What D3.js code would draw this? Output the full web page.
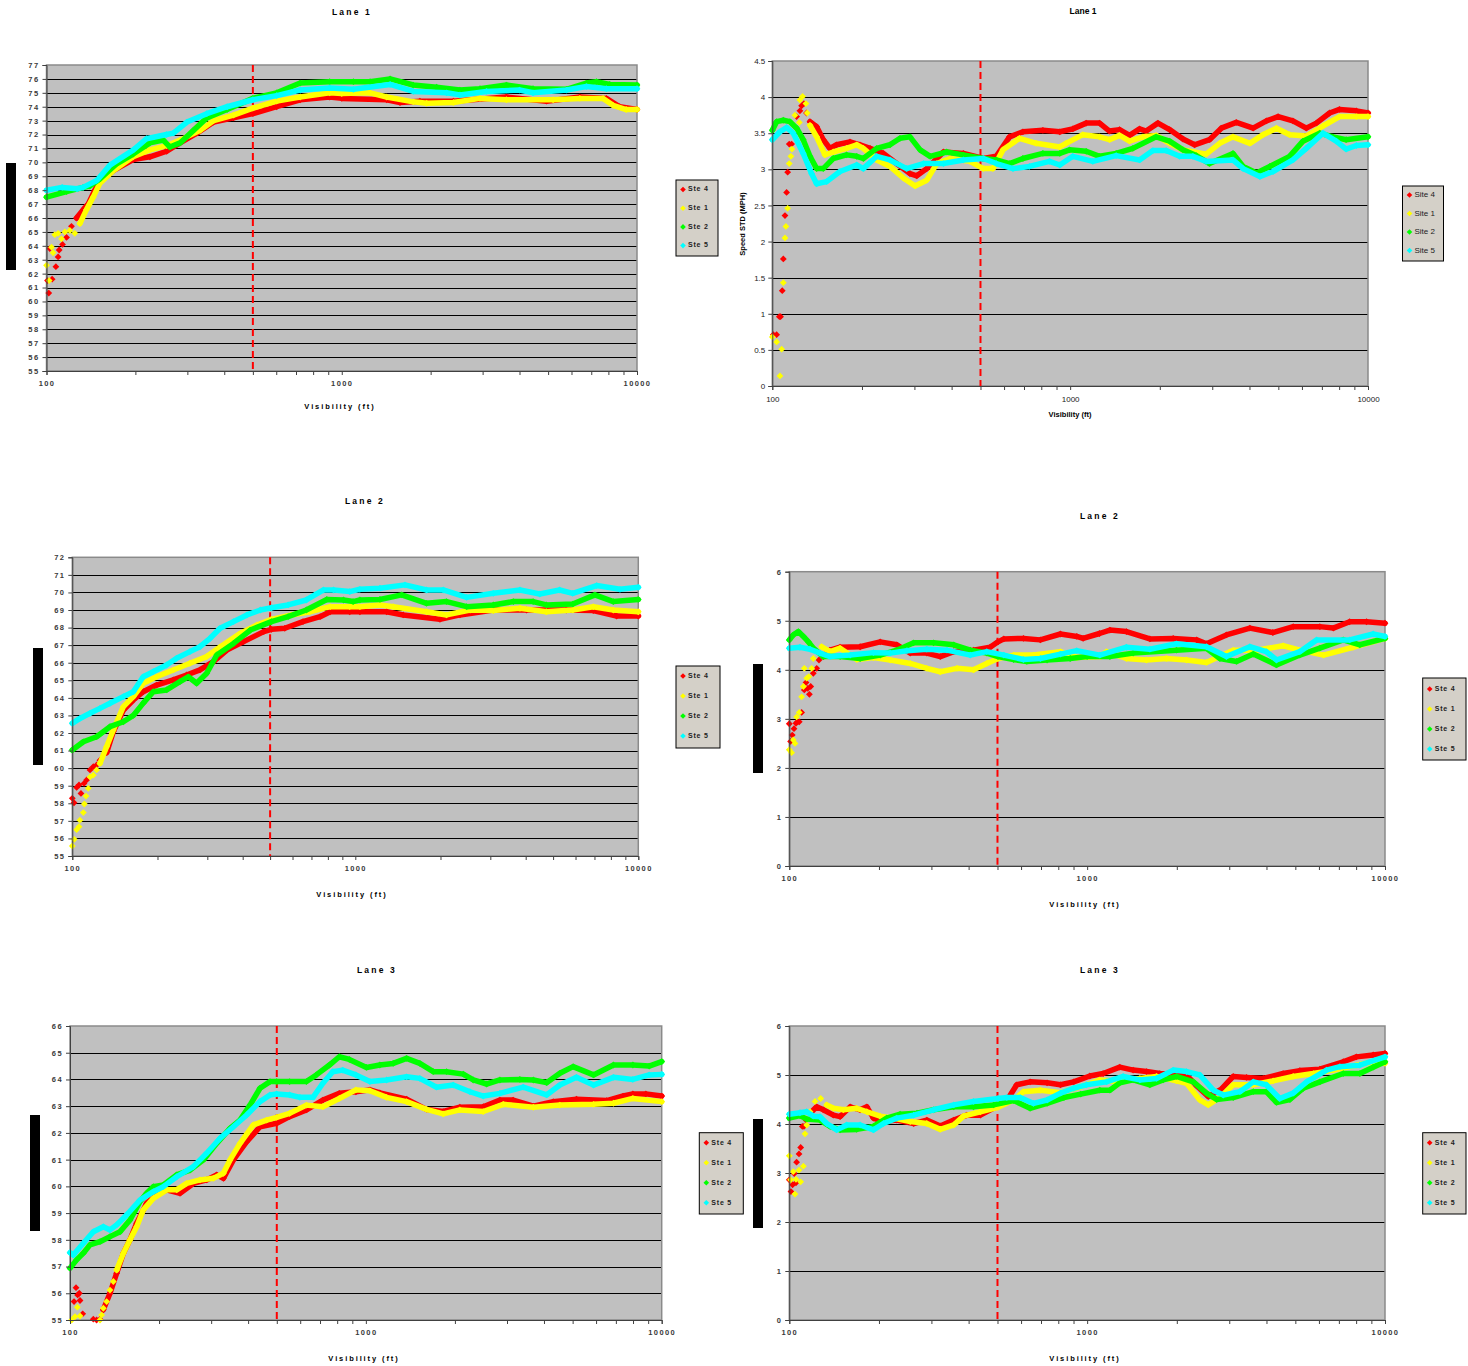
<!DOCTYPE html>
<html>
<head>
<meta charset="utf-8">
<script src="https://cdn.jsdelivr.net/npm/d3@7"></script>
<style>
  body { margin: 0; background: #fff; }
  svg { display: block; font-family: "Liberation Sans", Arial, sans-serif; }
</style>
</head>
<body>
<svg id="chart" width="1468" height="1366"></svg>
<script>
// ---- data: [visibility (ft), value] ----
// Lane 1, mean speed
let l1MeanDots4 = [[100.8,61.5],[101.8,60.6],[104.5,61.6],[102.6,63.8],[107.6,62.5],[109.5,63.2],[110.4,63.7],[113.3,64.1],[116.9,64.6],[121.5,65.4]];
let l1Mean4 = [[126.4,66.0],[133.2,66.6],[138.4,67.0],[145.8,68.0],[151.6,68.6],[168.3,69.4],[196.6,70.2],[224,70.4],[255.3,70.8],[283.4,71.4],[323.1,72.1],[368.3,72.9],[429.8,73.2],[500,73.5],[602,74.0],[723,74.5],[910,74.7],[1000,74.6],[1420,74.5],[1575,74.3],[1840,74.4],[2388,74.4],[3612,74.7],[4940,74.4],[6405,74.7],[7875,74.6],[8735,74.0],[10000,73.8]];
let l1MeanDots1 = [[100,62.6],[102.1,61.5],[104,63.9],[105.3,63.5],[106.7,64.8],[109.5,64.9],[112.4,64.5],[115.4,65.0],[120,65.1],[124.7,64.9]];
let l1Mean1 = [[129.7,65.6],[136.6,66.6],[143.9,67.5],[151.6,68.5],[168.3,69.4],[196.6,70.4],[224,70.9],[255.3,71.2],[283.4,71.6],[331.6,72.3],[368.3,73.0],[429.8,73.4],[500,73.9],[602,74.4],[723,74.7],[910,75.0],[1000,74.95],[1247,75.0],[1420,74.7],[1747,74.35],[1939,74.25],[2388,74.3],[2939,74.6],[3612,74.5],[5200,74.5],[6405,74.6],[7677,74.6],[8292,74.1],[9191,73.8],[10000,73.8]];
let l1Mean2 = [[100,67.5],[116.9,67.9],[133.2,68.2],[140.2,68.3],[151.6,68.8],[172.8,69.9],[196.6,70.6],[224,71.4],[248.6,71.6],[261.9,71.1],[283.4,71.4],[314.7,72.3],[349.4,73.2],[408.9,73.8],[500,74.6],[602,75.0],[723,75.7],[910,75.8],[1095,75.8],[1247,75.8],[1458,76.0],[1747,75.56],[2095,75.4],[2513,75.2],[2939,75.3],[3612,75.56],[4445,75.3],[5768,75.25],[6741,75.7],[7287,75.8],[8083,75.6],[10000,75.56]];
let l1Mean5 = [[100,68.0],[113,68.2],[127,68.1],[133,68.2],[148,68.7],[164,69.8],[197,70.9],[218,71.7],[255,72.0],[269,72.1],[299,72.9],[349,73.5],[409,74.0],[500,74.5],[602,74.8],[723,75.2],[910,75.35],[1095,75.25],[1458,75.6],[1747,75.1],[2264,75.0],[2513,74.85],[3093,75.1],[3999,75.2],[4445,75.0],[5768,75.2],[6741,75.45],[7875,75.3],[10000,75.3]];

// Lane 1, speed STD
let l1StdDots4 = [[100.8,0.71],[103.4,0.71],[105.6,0.96],[106.6,0.96],[108,1.32],[108.9,1.76],[110.3,2.36],[111.7,2.68],[112.6,2.96],[114,3.35],[116.1,3.35],[120.7,3.73],[123.8,3.81],[125.4,3.88],[127.7,3.91],[130.3,3.78]];
let l1Std4 = [[133.8,3.66],[140.9,3.59],[148.3,3.41],[156.1,3.29],[164.4,3.34],[182.3,3.38],[197,3.34],[212.9,3.29],[235.9,3.22],[261.5,3.08],[289.9,2.94],[305.5,2.91],[330.1,3.01],[375.4,3.24],[438,3.22],[511,3.15],[565,3.18],[626,3.45],[694,3.52],[810,3.54],[923,3.52],[1021,3.56],[1132,3.64],[1255,3.64],[1355,3.53],[1465,3.55],[1583,3.47],[1710,3.56],[1800,3.53],[1971,3.64],[2157,3.55],[2392,3.42],[2617,3.34],[2937,3.41],[3218,3.57],[3613,3.65],[4115,3.57],[4560,3.67],[4990,3.73],[5596,3.67],[6207,3.57],[6709,3.64],[7432,3.78],[8024,3.83],[9139,3.81],[10000,3.78]];
let l1StdDots1 = [[100,0.68],[103.4,0.61],[107.5,0.51],[106.1,0.14],[108.9,1.43],[110.3,2.05],[111.1,2.21],[112.6,2.46],[114,3.08],[115.5,3.18],[116.4,3.28],[119.1,3.75],[123.2,3.65],[123.8,3.96],[126.4,4.01],[129.7,3.91],[131,3.78]];
let l1Std1 = [[133.8,3.61],[140.9,3.45],[150.2,3.2],[160.2,3.24],[177.6,3.29],[192,3.34],[202.1,3.29],[224.1,3.13],[248.4,3.04],[275.3,2.88],[301.6,2.77],[330.1,2.85],[356.6,3.08],[395.2,3.15],[460.8,3.11],[511,3.01],[550.5,3.01],[595,3.27],[676,3.43],[769,3.36],[923,3.31],[969,3.36],[1103,3.48],[1255,3.45],[1355,3.41],[1465,3.47],[1583,3.39],[1755,3.45],[1945,3.47],[2157,3.36],[2392,3.27],[2863,3.21],[3177,3.36],[3521,3.45],[4012,3.36],[4446,3.48],[4927,3.57],[5455,3.48],[6207,3.46],[7060,3.6],[8024,3.73],[9139,3.73],[10000,3.73]];
let l1Std2 = [[100,3.54],[103.4,3.66],[108.9,3.68],[114.6,3.66],[120.7,3.57],[127,3.41],[133.8,3.18],[140.9,3.01],[148.3,3.01],[160.2,3.15],[177.6,3.2],[192,3.18],[202.1,3.15],[224.1,3.29],[248.4,3.34],[268.4,3.43],[289.9,3.45],[313.5,3.27],[338.7,3.18],[385.2,3.24],[438,3.2],[511,3.15],[565,3.13],[626,3.08],[694,3.15],[810,3.22],[923,3.22],[995,3.27],[1132,3.25],[1255,3.18],[1427,3.22],[1624,3.29],[1945,3.45],[2157,3.39],[2392,3.27],[2651,3.19],[2937,3.08],[3521,3.22],[3808,3.04],[4224,2.95],[4680,3.04],[5455,3.18],[6049,3.39],[6883,3.5],[7624,3.45],[8445,3.41],[10000,3.45]];
let l1Std5 = [[100,3.41],[106.1,3.52],[111.7,3.58],[117.6,3.5],[127,3.22],[135.5,2.94],[140.9,2.8],[152.2,2.83],[168.7,2.97],[192,3.06],[202.1,3.01],[224.1,3.18],[248.4,3.13],[282.5,3.01],[321.7,3.08],[375.4,3.08],[438,3.13],[511,3.15],[565,3.08],[643,3.01],[730,3.04],[852,3.11],[923,3.06],[1021,3.18],[1192,3.11],[1427,3.19],[1710,3.13],[1896,3.26],[2101,3.26],[2331,3.18],[2583,3.18],[2863,3.11],[3521,3.13],[3808,3.01],[4333,2.9],[4800,2.97],[5596,3.13],[6207,3.29],[7060,3.5],[7822,3.39],[8445,3.28],[9139,3.33],[10000,3.34]];

// Lane 2, mean speed
let l2MeanDots4 = [[100,58.28],[101.4,58.03],[103.6,58.9],[105.6,59.04],[107.3,58.56],[110,59.13],[112.4,59.33],[115.5,59.9],[118.6,60.08],[121.9,60.18],[125.2,60.45]];
let l2Mean4 = [[132.2,60.88],[139.6,62.08],[151.5,63.3],[164.3,63.88],[178.1,64.35],[198.6,64.73],[227.3,65.02],[253.5,65.3],[282.6,65.59],[315.2,66.06],[351.6,66.72],[403,67.2],[474.8,67.77],[505.6,67.9],[563.4,67.96],[653.3,68.34],[751.1,68.62],[815.3,68.9],[955.7,68.9],[1038,68.9],[1290,68.9],[1478,68.72],[1991,68.47],[2343,68.72],[3074,69.0],[4028,69.0],[5561,69.0],[6931,68.97],[8386,68.66],[10000,68.66]];
let l2MeanDots1 = [[100,55.57],[101.6,55.95],[103.6,56.5],[105.6,56.67],[106.4,57.04],[109.4,57.47],[110.3,57.96],[111.8,58.41],[113.9,58.85],[115.5,59.5],[118.6,59.6],[121.9,59.9]];
let l2Mean1 = [[125.2,60.27],[132.2,61.22],[139.6,62.17],[151.5,63.5],[164.3,64.07],[178.1,64.83],[198.6,65.2],[227.3,65.59],[260.4,65.97],[298.5,66.35],[332.9,66.9],[392.2,67.67],[449.5,68.15],[505.6,68.47],[595,68.72],[690,68.9],[815.3,69.19],[955.7,69.19],[1038,69.19],[1222,69.29],[1362,69.19],[1786,68.9],[2102,68.72],[2544,69.0],[3074,68.97],[3818,69.1],[4733,68.9],[5868,69.0],[6931,69.19],[8164,69.0],[10000,68.9]];
let l2Mean2 = [[100,61.03],[109.4,61.5],[121.9,61.79],[135.9,62.36],[151.5,62.64],[164.3,63.0],[178.1,63.7],[193.2,64.35],[215.4,64.45],[240.1,64.92],[256.9,65.2],[275,64.83],[298.5,65.4],[324,66.44],[371.3,67.1],[425.7,67.86],[505.6,68.34],[578.9,68.62],[671.4,69.0],[793.3,69.6],[908.6,69.57],[982.3,69.48],[1038,69.57],[1222,69.6],[1458,69.86],[1786,69.38],[2102,69.48],[2474,69.19],[3074,69.29],[3620,69.48],[4250,69.48],[4733,69.29],[5868,69.34],[7026,69.86],[8164,69.48],[10000,69.6]];
let l2Mean5 = [[100,62.55],[106.4,62.83],[115.5,63.12],[125.2,63.4],[135.9,63.69],[151.5,64.07],[164.3,64.35],[178.1,65.2],[193.2,65.49],[215.4,65.87],[233.6,66.25],[260.4,66.63],[282.6,66.91],[306.8,67.39],[332.9,67.96],[371.3,68.34],[414.2,68.72],[462,69.0],[505.6,69.13],[578.9,69.29],[671.4,69.57],[771.9,70.14],[837.9,70.14],[955.7,70.05],[1038,70.18],[1222,70.24],[1498,70.43],[1786,70.14],[2046,70.14],[2474,69.72],[3074,69.95],[3818,70.14],[4485,69.91],[5271,70.14],[5868,69.95],[7122,70.39],[8615,70.18],[10000,70.29]];

// Lane 2, speed STD
let l2StdDots4 = [[100,2.9],[101,2.54],[102.3,2.67],[103.7,2.8],[105.3,2.91],[106.7,2.94],[108,2.94],[110,3.13],[112.3,3.59],[113.8,3.74],[115.3,3.62],[116.8,3.5],[118,3.66],[120.4,3.93],[123.6,4.03],[125.8,4.2]];
let l2Std4 = [[130.1,4.27],[137,4.4],[148.1,4.46],[172.9,4.47],[201.9,4.57],[229.6,4.51],[254.8,4.34],[289.5,4.34],[321.3,4.27],[356.6,4.37],[415.5,4.4],[472.3,4.46],[502,4.57],[525.2,4.63],[611.2,4.64],[696.3,4.61],[813.5,4.73],[923,4.68],[969,4.64],[1100,4.74],[1192,4.81],[1355,4.78],[1624,4.63],[1945,4.64],[2331,4.61],[2516,4.53],[2935,4.71],[3518,4.85],[4202,4.76],[4918,4.88],[6044,4.88],[6705,4.85],[7610,4.98],[8670,4.98],[10000,4.95]];
let l2StdDots1 = [[100,2.37],[101.8,2.31],[103.1,2.57],[104.5,2.5],[105.8,3.04],[108,3.13],[110,3.45],[111.5,3.66],[112.3,4.03],[114.4,3.83],[116.2,3.86],[118.9,4.03],[120.4,4.23],[123.6,4.37]];
let l2Std1 = [[128.5,4.47],[137,4.37],[148.1,4.44],[168.5,4.21],[191.7,4.25],[218.2,4.2],[254.8,4.13],[289.5,4.03],[321.3,3.96],[365.5,4.03],[415.5,4.0],[460.3,4.13],[502,4.23],[566.6,4.3],[660.8,4.3],[813.5,4.37],[923,4.25],[1108,4.27],[1161,4.37],[1355,4.23],[1582,4.2],[1848,4.23],[2157,4.2],[2516,4.15],[3093,4.4],[3709,4.4],[4550,4.49],[5175,4.4],[6223,4.3],[7810,4.46],[10000,4.64]];
let l2Std2 = [[100,4.61],[103.1,4.71],[107.2,4.78],[111.5,4.68],[115.9,4.57],[120.4,4.44],[130.1,4.27],[148.1,4.27],[172.9,4.23],[201.9,4.3],[229.6,4.4],[261.5,4.55],[305,4.55],[356.6,4.51],[405,4.4],[460.3,4.34],[502,4.27],[566.6,4.21],[627.5,4.17],[733.6,4.2],[877,4.23],[1000,4.27],[1192,4.27],[1427,4.34],[1995,4.4],[2516,4.44],[2791,4.23],[3175,4.17],[3613,4.32],[4321,4.1],[5175,4.3],[6044,4.44],[7240,4.61],[8232,4.51],[10000,4.64]];
let l2Std5 = [[100,4.44],[108.6,4.46],[117.4,4.42],[126.8,4.34],[137,4.27],[160.1,4.3],[191.7,4.35],[218.2,4.34],[248.3,4.39],[289.5,4.42],[338.4,4.4],[405,4.3],[460.3,4.37],[525.2,4.3],[611.2,4.21],[696.3,4.23],[813.5,4.32],[923,4.39],[1103,4.3],[1355,4.46],[1624,4.42],[1995,4.53],[2516,4.47],[2935,4.27],[3518,4.47],[3995,4.37],[4321,4.2],[5175,4.37],[5900,4.61],[7610,4.61],[9125,4.73],[10000,4.68]];

// Lane 3, mean speed
let l3MeanDots4 = [[103.2,55.69],[104.8,56.21],[106.1,55.94],[107.5,56.0],[108.1,55.73],[110.4,55.23],[119.9,55.03],[123,55.0],[126.3,55.03]];
let l3Mean4 = [[129.6,55.38],[136.5,56.0],[143.8,56.75],[151.5,57.5],[159.5,58.0],[168,58.62],[181.6,59.37],[196.3,59.68],[212.2,59.87],[235.4,59.74],[261.2,60.11],[289.7,60.24],[313.2,60.43],[329.9,60.3],[356.7,60.99],[395.6,61.67],[438.7,62.23],[499.4,62.36],[552.4,62.61],[629.9,62.86],[715.7,63.23],[813.4,63.48],[925.4,63.54],[1033,63.61],[1115,63.5],[1373,63.26],[1604,62.88],[1826,62.8],[2079,62.96],[2494,62.98],[2838,63.23],[3147,63.23],[3683,63.0],[4298,63.17],[5151,63.26],[6521,63.21],[7409,63.38],[7990,63.46],[8839,63.46],[10000,63.38]];
let l3MeanDots1 = [[101.3,55.0],[104,55.13],[105.9,55.48],[108.1,55.15],[126.3,55.0],[127.9,55.19],[129.6,55.44],[133,55.69],[136.5,56.12],[140.1,56.44]];
let l3Mean1 = [[143.8,56.87],[151.5,57.5],[159.5,58.0],[168,58.49],[176.9,59.12],[191.3,59.55],[212.2,59.87],[229.4,59.87],[247.9,60.11],[275.1,60.24],[305.2,60.3],[329.9,60.49],[347.5,60.99],[375.6,61.61],[416.7,62.3],[462.1,62.48],[499.4,62.58],[552.4,62.73],[629.9,63.04],[715.7,62.98],[813.4,63.29],[925.4,63.61],[1032,63.58],[1175,63.33],[1373,63.17],[1604,62.88],[1826,62.71],[2079,62.86],[2494,62.8],[2913,63.07],[3683,62.96],[4526,63.04],[5881,63.07],[6869,63.11],[7990,63.29],[10000,63.17]];
let l3Mean2 = [[100,56.94],[105.3,57.25],[110.9,57.5],[116.8,57.81],[126.3,57.93],[136.5,58.12],[147.6,58.3],[159.5,58.74],[172.4,59.43],[181.6,59.74],[191.3,59.99],[206.8,60.05],[229.4,60.43],[254.5,60.61],[282.3,60.99],[313.2,61.61],[347.5,62.17],[375.6,62.48],[405.9,63.04],[438.7,63.67],[474.2,63.92],[499.4,63.92],[552.4,63.92],[629.9,63.92],[680,64.17],[753.1,64.54],[813.4,64.85],[879.3,64.75],[1005,64.45],[1115,64.54],[1237,64.6],[1373,64.79],[1522,64.6],[1690,64.29],[1874,64.29],[2134,64.2],[2307,63.98],[2560,63.83],[2838,63.98],[3315,64.0],[3683,63.98],[4082,63.88],[4526,64.23],[5018,64.48],[5881,64.17],[6869,64.54],[7990,64.54],[9070,64.5],[10000,64.67]];
let l3Mean5 = [[100,57.52],[102.6,57.43],[110.9,57.87],[119.9,58.3],[129.6,58.49],[136.5,58.37],[143.8,58.56],[155.4,58.93],[172.4,59.49],[191.3,59.8],[206.8,59.99],[229.4,60.36],[261.2,60.74],[289.7,61.24],[321.5,61.8],[356.7,62.23],[395.6,62.67],[438.7,63.17],[474.2,63.42],[499.4,63.46],[552.4,63.42],[598.6,63.33],[662.9,63.33],[715.7,63.86],[772.9,64.29],[834.7,64.35],[925.4,64.17],[1032,63.92],[1175,63.98],[1373,64.1],[1522,64.04],[1734,63.71],[1974,63.79],[2248,63.54],[2494,63.38],[2838,63.48],[3403,63.71],[4082,63.42],[4526,63.79],[5151,64.08],[5881,63.79],[6869,64.08],[7990,64.0],[9070,64.17],[10000,64.19]];

// Lane 3, speed STD
let l3StdDots4 = [[100,2.86],[101.3,2.62],[102.6,2.76],[103.9,2.99],[105.3,2.8],[105.8,3.22],[107.8,3.39],[109.2,3.52],[110.6,3.95],[112,3.95],[113.8,4.08]];
let l3Std4 = [[117.4,4.22],[123.6,4.35],[130.1,4.29],[140.6,4.18],[148.1,4.15],[160.1,4.35],[172.9,4.29],[182.1,4.35],[191.7,4.12],[207.1,4.05],[229.6,4.08],[261.5,4.01],[289.5,4.08],[321.3,3.96],[356.6,4.08],[394.5,4.18],[437.9,4.18],[502,4.37],[537.6,4.48],[580.3,4.8],[643.4,4.86],[733.6,4.84],[813.5,4.8],[900.5,4.86],[1021,4.98],[1132,5.03],[1287,5.16],[1427,5.1],[1582,5.07],[1754,5.03],[1945,5.02],[2157,5.0],[2331,4.78],[2550,4.56],[2823,4.71],[3093,4.97],[3428,4.95],[3900,4.93],[4550,5.03],[5175,5.09],[6044,5.12],[7240,5.27],[8017,5.37],[9128,5.41],[10000,5.44]];
let l3StdDots1 = [[100,3.35],[101,2.86],[103.1,3.03],[104.5,2.57],[105.3,2.87],[107.8,3.06],[109.2,2.82],[111.5,3.14],[112.9,3.8],[114.4,3.98],[117.4,4.25],[122,4.46],[127.5,4.52]];
let l3Std1 = [[133.5,4.39],[140.6,4.32],[151.9,4.29],[168.5,4.32],[182.1,4.25],[201.9,4.16],[223.8,4.12],[254.8,4.05],[289.5,4.01],[321.3,3.89],[356.6,3.98],[384.4,4.16],[437.9,4.25],[502,4.34],[566.6,4.49],[611.2,4.66],[696.3,4.69],[813.5,4.64],[951.5,4.76],[1103,4.9],[1287,4.86],[1503,4.93],[1709,4.97],[1995,4.88],[2157,4.83],[2390,4.49],[2550,4.39],[2791,4.54],[3093,4.8],[3613,4.8],[4212,4.88],[4918,4.97],[5743,5.03],[6705,5.1],[8017,5.2],[9128,5.27],[10000,5.24]];
let l3Std2 = [[100,4.12],[108.6,4.17],[114.4,4.1],[126.8,4.08],[137,3.95],[148.1,3.88],[168.5,3.89],[191.7,3.95],[212.4,4.12],[235.6,4.2],[268.4,4.22],[305,4.29],[356.6,4.35],[415.5,4.35],[485.3,4.39],[566.6,4.48],[643.4,4.32],[733.6,4.42],[835.5,4.54],[951.5,4.61],[1103,4.69],[1192,4.69],[1287,4.84],[1427,4.9],[1624,4.8],[1800,4.9],[1995,4.97],[2273,4.86],[2516,4.63],[2720,4.5],[3093,4.54],[3613,4.66],[3995,4.66],[4321,4.44],[4796,4.5],[5318,4.73],[6044,4.86],[7240,5.03],[8232,5.03],[9128,5.16],[10000,5.27]];
let l3Std5 = [[100,4.2],[108.6,4.23],[114.4,4.25],[120.4,4.16],[126.8,4.15],[133.5,4.01],[144.3,3.88],[155.9,3.98],[172.9,3.98],[191.7,3.88],[207.1,4.01],[229.6,4.12],[261.5,4.18],[305,4.29],[356.6,4.39],[415.5,4.46],[502,4.52],[537.6,4.54],[596,4.54],[660.8,4.42],[733.6,4.49],[813.5,4.63],[900.5,4.73],[995,4.8],[1161,4.86],[1321,4.97],[1503,4.9],[1709,4.93],[1945,5.1],[2157,5.07],[2390,5.0],[2651,4.69],[2864,4.59],[3257,4.66],[3613,4.86],[3995,4.8],[4433,4.52],[4918,4.63],[5456,4.86],[6364,5.1],[7058,5.17],[8232,5.2],[10000,5.37]];

// tick values
let meanTicksL1 = d3.range(55, 78, 1);
let meanTicksL2 = d3.range(55, 73, 1);
let meanTicksL3 = d3.range(55, 67, 1);
let stdTicksL1 = d3.range(0, 4.75, 0.5);
let stdTicks = d3.range(0, 7, 1);
let visLabels = [100, 1000, 10000];
let thresholdVis = 500;

let siteOrder = ["Site 4", "Site 1", "Site 2", "Site 5"];
let legendShort = ["Ste 4", "Ste 1", "Ste 2", "Ste 5"];
let siteColors = ["#ff0000", "#ffff00", "#00ff00", "#00ffff"];

let svg = d3.select("#chart");

let diamond = "M0,-3.4L3.4,0L0,3.4L-3.4,0Z";
let smallDiamond = "M0,-2.8L2.8,0L0,2.8L-2.8,0Z";

function drawPanel(p) {
    let g = svg.append("g");
    let w = p.right - p.left;

    let xScale = d3.scaleLog().domain([100, 10000]).range([p.left, p.right]);
    let yScale = d3.scaleLinear()
        .domain([p.yTicks[0], p.yTicks[p.yTicks.length - 1]])
        .range([p.bottom, p.top]);

    g.append("rect")
        .attr("x", p.left).attr("y", p.top)
        .attr("width", w).attr("height", p.bottom - p.top)
        .attr("fill", "#c0c0c0");

    // horizontal gridlines
    let grid = g.append("g")
        .attr("transform", `translate(${p.left},0)`)
        .call(d3.axisLeft(yScale).tickValues(p.yTicks.slice(1, -1)).tickSize(-w).tickFormat(""));
    grid.select(".domain").remove();
    grid.selectAll("line").attr("stroke", "#000").attr("shape-rendering", "crispEdges");

    g.append("rect")
        .attr("x", p.left).attr("y", p.top)
        .attr("width", w).attr("height", p.bottom - p.top)
        .attr("fill", "none").attr("stroke", "#8a8a8a").attr("stroke-width", 1.5);

    // 500 ft marker
    g.append("line")
        .attr("x1", xScale(thresholdVis)).attr("x2", xScale(thresholdVis))
        .attr("y1", p.top).attr("y2", p.bottom)
        .attr("stroke", "#ff0000").attr("stroke-width", 2)
        .attr("stroke-dasharray", "7,4");

    let line = d3.line().x(d => xScale(d[0])).y(d => yScale(d[1]));

    p.series.forEach((s, i) => {
        let col = siteColors[i];
        if (s.dots) {
            g.selectAll(null).data(s.dots).join("path")
                .attr("d", diamond)
                .attr("transform", d => `translate(${xScale(d[0])},${yScale(d[1])})`)
                .attr("fill", col);
        }
        g.append("path").datum(s.trace)
            .attr("d", line)
            .attr("fill", "none")
            .attr("stroke", col)
            .attr("stroke-width", 5.5)
            .attr("stroke-linejoin", "round")
            .attr("stroke-linecap", "round");
        g.selectAll(null).data(s.trace).join("path")
            .attr("d", diamond)
            .attr("transform", d => `translate(${xScale(d[0])},${yScale(d[1])})`)
            .attr("fill", col);
    });

    // axes
    let tickStyle = p.spaced
        ? { size: "7.5px", weight: "bold", spacing: "1.4px", fill: "#3a3a3a" }
        : { size: "8px", weight: "normal", spacing: "0px", fill: "#222" };

    let yAxis = g.append("g")
        .attr("transform", `translate(${p.left},0)`)
        .call(d3.axisLeft(yScale).tickValues(p.yTicks).tickSize(4).tickPadding(3)
            .tickFormat(d3.format("~g")));
    let xAxis = g.append("g")
        .attr("transform", `translate(0,${p.bottom})`)
        .call(d3.axisBottom(xScale).tickValues(xScale.ticks()).tickSize(4).tickPadding(6)
            .tickFormat(d => visLabels.includes(Math.round(d)) ? String(Math.round(d)) : ""));
    [yAxis, xAxis].forEach(a => {
        a.select(".domain").attr("stroke", "#404040");
        a.selectAll(".tick line").attr("stroke", "#404040");
        a.selectAll("text")
            .style("font-family", '"Liberation Sans", Arial, sans-serif')
            .style("font-size", tickStyle.size)
            .style("font-weight", tickStyle.weight)
            .style("letter-spacing", tickStyle.spacing)
            .attr("fill", tickStyle.fill);
    });

    // title
    g.append("text")
        .attr("x", p.title[0]).attr("y", p.title[1])
        .attr("text-anchor", "middle").attr("dominant-baseline", "middle")
        .style("font-size", "8.5px").style("font-weight", "bold")
        .style("letter-spacing", p.spaced ? "2.2px" : "0px")
        .text(p.titleText);

    // x axis title
    g.append("text")
        .attr("x", p.xTitle[0]).attr("y", p.xTitle[1])
        .attr("text-anchor", "middle").attr("dominant-baseline", "middle")
        .style("font-size", p.spaced ? "7.5px" : "7.5px").style("font-weight", "bold")
        .style("letter-spacing", p.spaced ? "1.9px" : "0px")
        .text("Visibility (ft)");

    if (p.yTitle) {
        g.append("text")
            .attr("transform", `translate(${p.yTitle[0]},${p.yTitle[1]}) rotate(-90)`)
            .attr("text-anchor", "middle").attr("dominant-baseline", "middle")
            .style("font-size", "7.5px").style("font-weight", "bold")
            .text("Speed STD (MPH)");
    }
    if (p.bar) {
        g.append("rect")
            .attr("x", p.bar[0]).attr("y", p.bar[1])
            .attr("width", p.bar[2]).attr("height", p.bar[3])
            .attr("fill", "#000");
    }

    // legend
    let lg = g.append("g").attr("transform", `translate(${p.legend[0]},${p.legend[1]})`);
    lg.append("rect")
        .attr("width", p.legend[2]).attr("height", p.legend[3])
        .attr("fill", "#d4d0c8").attr("stroke", "#000").attr("stroke-width", 1);
    let labels = p.spaced ? legendShort : siteOrder;
    labels.forEach((lab, i) => {
        let ly = p.legend[4] + i * p.legend[5];
        lg.append("path")
            .attr("d", smallDiamond)
            .attr("transform", `translate(7,${ly})`)
            .attr("fill", siteColors[i]);
        lg.append("text")
            .attr("x", 12).attr("y", ly)
            .attr("dominant-baseline", "middle")
            .style("font-size", p.spaced ? "7px" : "8px")
            .style("font-weight", p.spaced ? "bold" : "normal")
            .style("letter-spacing", p.spaced ? "0.8px" : "0px")
            .attr("fill", "#222")
            .text(lab);
    });
}

drawPanel({
    left: 46.5, right: 637, top: 65, bottom: 371, yTicks: meanTicksL1, spaced: true,
    titleText: "Lane 1", title: [352, 13], xTitle: [340, 407],
    bar: [6, 163, 10, 107], legend: [676, 180, 42, 76, 9.5, 18.7],
    series: [
        { dots: l1MeanDots4, trace: l1Mean4 },
        { dots: l1MeanDots1, trace: l1Mean1 },
        { trace: l1Mean2 },
        { trace: l1Mean5 }
    ]
});

drawPanel({
    left: 772.3, right: 1368, top: 61, bottom: 386, yTicks: stdTicksL1, spaced: false,
    titleText: "Lane 1", title: [1083, 12], xTitle: [1070, 415], yTitle: [743, 224],
    legend: [1402.5, 186, 41, 75, 9, 18.5],
    series: [
        { dots: l1StdDots4, trace: l1Std4 },
        { dots: l1StdDots1, trace: l1Std1 },
        { trace: l1Std2 },
        { trace: l1Std5 }
    ]
});

drawPanel({
    left: 72.3, right: 638.3, top: 557.3, bottom: 856, yTicks: meanTicksL2, spaced: true,
    titleText: "Lane 2", title: [365, 502], xTitle: [352, 895],
    bar: [33, 648, 10, 117], legend: [676, 666, 44, 82, 10, 20],
    series: [
        { dots: l2MeanDots4, trace: l2Mean4 },
        { dots: l2MeanDots1, trace: l2Mean1 },
        { trace: l2Mean2 },
        { trace: l2Mean5 }
    ]
});

drawPanel({
    left: 789.3, right: 1385, top: 571.7, bottom: 866, yTicks: stdTicks, spaced: true,
    titleText: "Lane 2", title: [1100, 517], xTitle: [1085, 905],
    bar: [753, 664, 10, 109], legend: [1422.7, 678, 43.3, 82, 11, 20],
    series: [
        { dots: l2StdDots4, trace: l2Std4 },
        { dots: l2StdDots1, trace: l2Std1 },
        { trace: l2Std2 },
        { trace: l2Std5 }
    ]
});

drawPanel({
    left: 70, right: 661.7, top: 1026, bottom: 1320, yTicks: meanTicksL3, spaced: true,
    titleText: "Lane 3", title: [377, 971], xTitle: [364, 1359],
    bar: [30, 1115, 10, 116], legend: [699.3, 1132.7, 44, 81.3, 10, 20],
    series: [
        { dots: l3MeanDots4, trace: l3Mean4 },
        { dots: l3MeanDots1, trace: l3Mean1 },
        { trace: l3Mean2 },
        { trace: l3Mean5 }
    ]
});

drawPanel({
    left: 789.3, right: 1385, top: 1026, bottom: 1320, yTicks: stdTicks, spaced: true,
    titleText: "Lane 3", title: [1100, 971], xTitle: [1085, 1359],
    bar: [753, 1119, 10, 109], legend: [1422.7, 1132.7, 43.3, 81.3, 10, 20],
    series: [
        { dots: l3StdDots4, trace: l3Std4 },
        { dots: l3StdDots1, trace: l3Std1 },
        { trace: l3Std2 },
        { trace: l3Std5 }
    ]
});
</script>
</body>
</html>
